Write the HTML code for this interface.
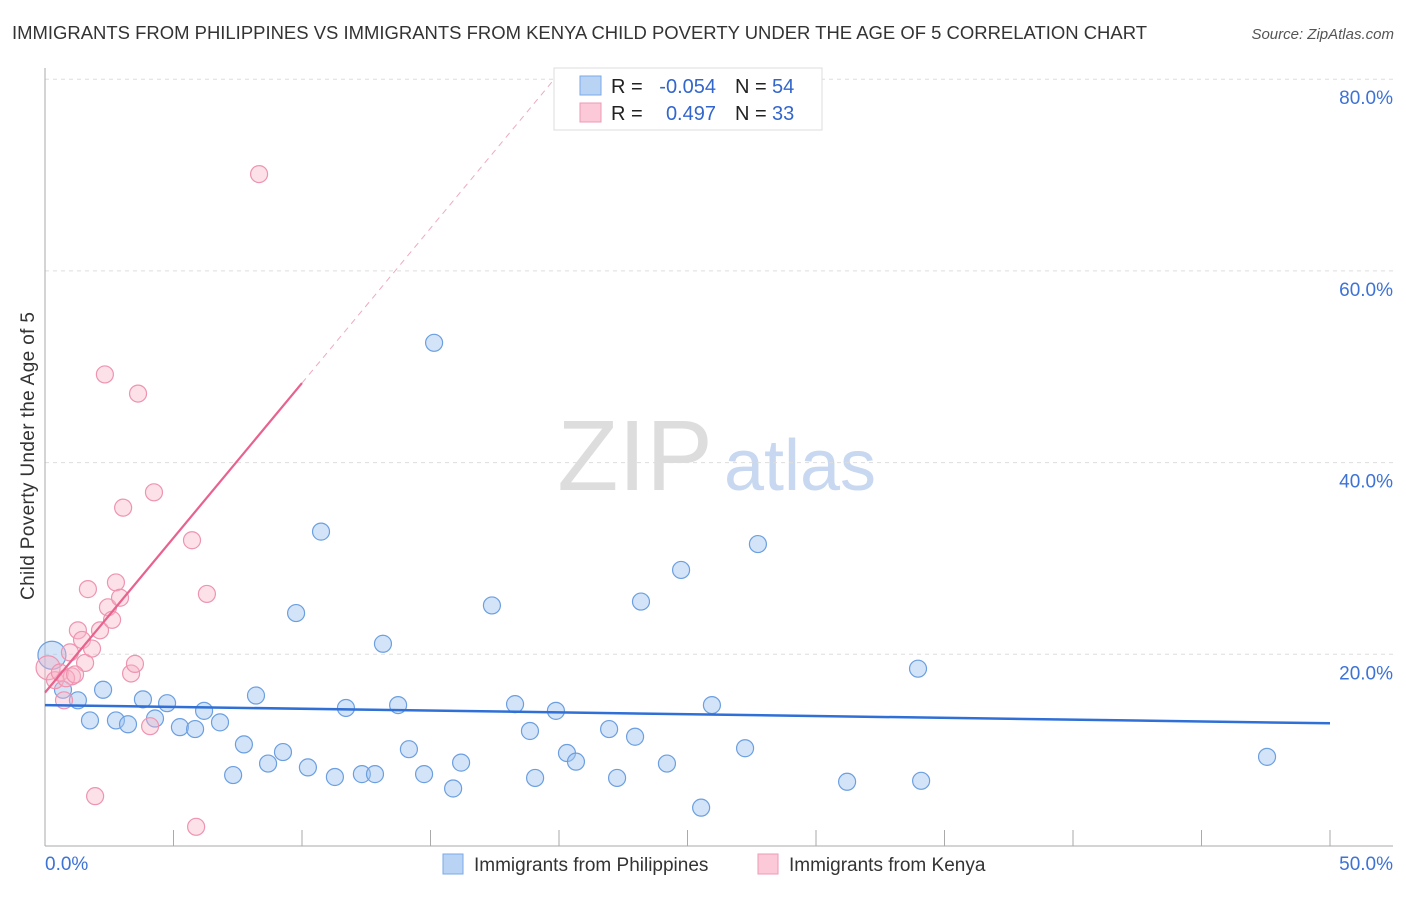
<!DOCTYPE html>
<html><head><meta charset="utf-8"><style>
body{margin:0;background:#fff;font-family:"Liberation Sans",sans-serif;}
svg text{font-family:"Liberation Sans",sans-serif;}
</style></head><body>
<svg id="c" width="1406" height="892">
<text x="12" y="39" font-size="18" fill="#333" textLength="1135" lengthAdjust="spacingAndGlyphs">IMMIGRANTS FROM PHILIPPINES VS IMMIGRANTS FROM KENYA CHILD POVERTY UNDER THE AGE OF 5 CORRELATION CHART</text>
<text x="1394" y="39" font-size="15" fill="#555" font-style="italic" text-anchor="end">Source: ZipAtlas.com</text>
<text x="34" y="456" font-size="19" fill="#333" text-anchor="middle" textLength="288" transform="rotate(-90 34 456)">Child Poverty Under the Age of 5</text>
<g><text x="635" y="490" font-size="100" fill="#ddd" font-family="Liberation Serif" text-anchor="middle">ZIP</text><text x="800" y="490" font-size="72" fill="#c8d8f0" text-anchor="middle">atlas</text></g>
<g id="grid"></g><g id="axes"></g><g id="marks"></g>
<g>
<rect x="554" y="68" width="268" height="62" fill="#fff" stroke="#ddd"/>
<rect x="580" y="76" width="21" height="19" fill="#b9d3f5" stroke="#7aa8e6"/>
<rect x="580" y="103" width="21" height="19" fill="#fbc9d8" stroke="#ee9ab5"/>
<text x="611" y="93" font-size="20" fill="#222">R =</text>
<text x="716" y="93" font-size="20" fill="#3366cc" text-anchor="end">-0.054</text>
<text x="735" y="93" font-size="20" fill="#222">N =</text>
<text x="772" y="93" font-size="20" fill="#3366cc">54</text>
<text x="611" y="120" font-size="20" fill="#222">R =</text>
<text x="716" y="120" font-size="20" fill="#3366cc" text-anchor="end">0.497</text>
<text x="735" y="120" font-size="20" fill="#222">N =</text>
<text x="772" y="120" font-size="20" fill="#3366cc">33</text>
</g>
<g>
<rect x="443" y="854" width="20" height="20" fill="#b9d3f5" stroke="#7aa8e6"/>
<text x="474" y="871" font-size="19" fill="#333">Immigrants from Philippines</text>
<rect x="758" y="854" width="20" height="20" fill="#fbc9d8" stroke="#ee9ab5"/>
<text x="789" y="871" font-size="19" fill="#333">Immigrants from Kenya</text>
</g>
</svg>
<script>
const blueX=[0.27,0.70,1.28,1.75,2.26,2.76,3.23,3.81,4.28,4.75,5.25,5.84,6.19,6.81,7.32,7.74,8.21,8.68,9.26,10.23,10.74,9.77,11.28,11.71,12.33,12.84,13.15,13.74,14.16,14.75,15.14,15.88,16.19,17.39,18.29,18.87,19.07,19.88,20.31,20.66,21.95,22.26,22.96,23.19,24.20,24.75,25.53,25.95,27.24,27.74,31.21,33.97,34.09,47.55];
const blueY=[19.9,16.3,15.2,13.1,16.3,13.1,12.7,15.3,13.3,14.9,12.4,12.2,14.1,12.9,7.4,10.6,15.7,8.6,9.8,8.2,32.8,24.3,7.2,14.4,7.5,7.5,21.1,14.7,10.1,7.5,52.5,6.0,8.7,25.1,14.8,12.0,7.1,14.1,9.7,8.8,12.2,7.1,11.4,25.5,8.6,28.8,4.0,14.7,10.2,31.5,6.7,18.5,6.8,9.3];
const pinkX=[0.12,0.39,0.58,0.74,0.97,1.05,1.28,1.44,1.56,1.67,1.83,1.95,2.14,2.33,2.45,2.61,2.76,2.92,3.04,3.35,3.50,4.09,4.24,3.62,5.72,5.88,6.30,8.33,0.82,1.17];
const pinkY=[18.6,17.3,18.1,15.2,20.2,17.7,22.5,21.5,19.1,26.8,20.6,5.2,22.5,49.2,24.9,23.6,27.5,25.9,35.3,18.0,19.0,12.5,36.9,47.2,31.9,2.0,26.3,70.1,17.5,17.9];
const blueTrend=[14.7,12.8]; // y at x=0 and x=50
const pinkTrend=[16.0,3.23]; // intercept, slope
const yTicks=[20,40,60,80];
const xTickVals=[0,5,10,15,20,25,30,35,40,45,50];
const NS="http://www.w3.org/2000/svg";
const X=v=>45+v*25.7, Y=v=>846-v*9.585;
function mk(p,t,a){const e=document.createElementNS(NS,t);for(const k in a)e.setAttribute(k,a[k]);document.getElementById(p).appendChild(e);return e;}
yTicks.forEach(v=>{
 const l=mk('grid','line',{x1:45,x2:1393,y1:Y(v),y2:Y(v),stroke:'#ddd','stroke-dasharray':'4,4'});
 
 
 const t=mk('grid','text',{x:1393,y:Y(v)+25,'font-size':19,fill:'#3d72d6','text-anchor':'end'});t.textContent=v.toFixed(1)+'%';
 
 
});
let a=mk('axes','line',{x1:45,x2:45,y1:68,y2:846,stroke:'#aaa'});


a=mk('axes','line',{x1:45,x2:1393,y1:846,y2:846,stroke:'#aaa'});


xTickVals.forEach(v=>{const l=mk('axes','line',{x1:X(v),x2:X(v),y1:830,y2:846,stroke:'#aaa'});
 
 });
let t=mk('axes','text',{x:45,y:870,'font-size':19,fill:'#3d72d6'});t.textContent='0.0%';


t=mk('axes','text',{x:1393,y:870,'font-size':19,fill:'#3d72d6','text-anchor':'end'});t.textContent='50.0%';


blueX.forEach((x,i)=>{const c=mk('marks','circle',{cx:X(x),cy:Y(blueY[i]),r:i==0?14:8.5,fill:'rgba(160,196,240,0.45)',stroke:'#6b9fe0','stroke-width':1.2});
 
 });
pinkX.forEach((x,i)=>{const c=mk('marks','circle',{cx:X(x),cy:Y(pinkY[i]),r:i==0?12:8.5,fill:'rgba(248,180,200,0.4)',stroke:'#ee94b0','stroke-width':1.2});
 
 });
let l=mk('marks','line',{x1:X(0),y1:Y(blueTrend[0]),x2:X(50),y2:Y(blueTrend[1]),stroke:'#2f6fd6','stroke-width':2.5});


l=mk('marks','line',{x1:X(0),y1:Y(pinkTrend[0]),x2:X(10),y2:Y(pinkTrend[0]+pinkTrend[1]*10),stroke:'#e8628e','stroke-width':2.2});


const xe=(80-pinkTrend[0])/pinkTrend[1];
l=mk('marks','line',{x1:X(10),y1:Y(pinkTrend[0]+pinkTrend[1]*10),x2:X(xe),y2:Y(80),stroke:'#eeaabf','stroke-width':1,'stroke-dasharray':'6,5'});


</script>
</body></html>
